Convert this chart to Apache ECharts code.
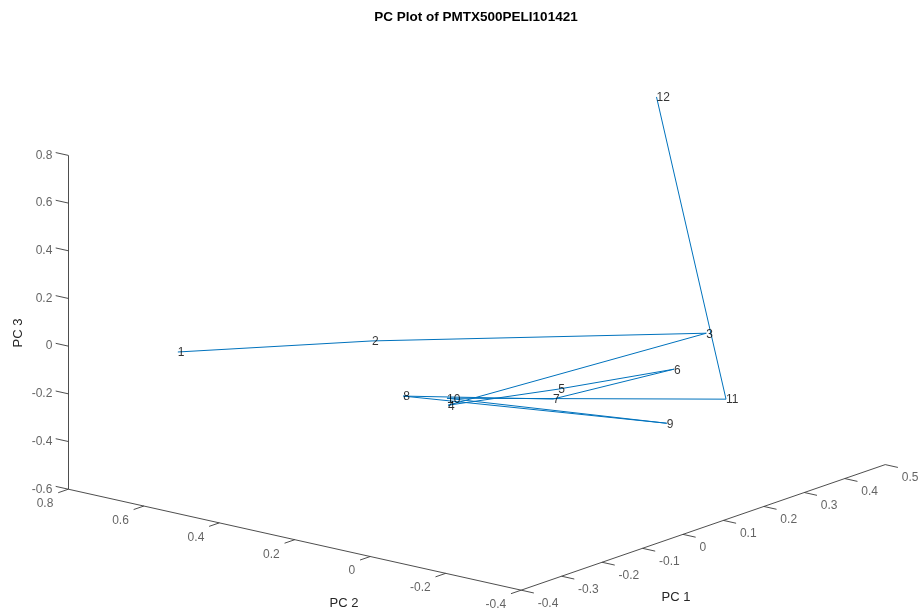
<!DOCTYPE html>
<html>
<head>
<meta charset="utf-8">
<title>PC Plot of PMTX500PELI101421</title>
<script src="https://cdn.jsdelivr.net/npm/echarts@6/dist/echarts.min.js"></script>
<style>
  html, body { margin: 0; padding: 0; background: #fff; }
  #chart { width: 918px; height: 612px; }
</style>
</head>
<body>
<div id="chart"></div>
<script>
// Principal component scores, one entry per sample, in plotting order
const pointLabels = ['1', '2', '3', '4', '5', '6', '7', '8', '9', '10', '11', '12'];
const pc1 = [-0.204, -0.069, 0.151, -0.161, 0.018, 0.211, 0.052, -0.365, 0.333, -0.117, 0.293, 0.470];
const pc2 = [0.720, 0.350, -0.300, 0.050, -0.050, -0.150, 0.000, -0.050, 0.000, 0.100, -0.200, 0.174];
const pc3 = [-0.111, -0.013, 0.120, -0.123, -0.125, -0.119, -0.204, 0.070, -0.470, -0.137, -0.275, 0.757];

// Axis limits and tick values
const pc1Limits = [-0.4, 0.5];
const pc2Limits = [-0.4, 0.8];
const pc3Limits = [-0.6, 0.8];
const pc1Ticks = [-0.4, -0.3, -0.2, -0.1, 0, 0.1, 0.2, 0.3, 0.4, 0.5];
const pc2Ticks = [-0.4, -0.2, 0, 0.2, 0.4, 0.6, 0.8];
const pc3Ticks = [-0.6, -0.4, -0.2, 0, 0.2, 0.4, 0.6, 0.8];

// View / plot box settings for the orthographic projection
const W = 918, H = 612;
const VIEW_AZ = -51.2, VIEW_EL = 16.1;      // degrees
const BOX = [1, 1, 0.598];                  // plot box aspect
const SCALE = 581;                          // px per box unit
const CENTER = [476.8, 310];                // px position of the box centre
const TICK_LEN = 0.028;                     // box units

const AXIS_COLOR = '#3a3a3a';
const LINE_COLOR = '#0072BD';
const FONT = '"Liberation Sans", Arial, Helvetica, sans-serif';

const az = VIEW_AZ * Math.PI / 180, el = VIEW_EL * Math.PI / 180;
function norm(v, lim) { return (v - lim[0]) / (lim[1] - lim[0]) - 0.5; }
// 3-D data coordinates -> 2-D view-plane coordinates (box units)
function project(a, b, c) {
  const X = norm(a, pc1Limits) * BOX[0];
  const Y = norm(b, pc2Limits) * BOX[1];
  const Z = norm(c, pc3Limits) * BOX[2];
  const h = X * Math.cos(az) + Y * Math.sin(az);
  const v = (-X * Math.sin(az) + Y * Math.cos(az)) * Math.sin(el) + Z * Math.cos(el);
  return [h, v];
}

const p1lo = pc1Limits[0], p1hi = pc1Limits[1];
const p2lo = pc2Limits[0], p2hi = pc2Limits[1];
const p3lo = pc3Limits[0], p3hi = pc3Limits[1];
const d1 = TICK_LEN * (p1hi - p1lo) / BOX[0];
const d2 = TICK_LEN * (p2hi - p2lo) / BOX[1];

// Axis lines
const axisSegments = [
  { coords: [project(p1lo, p2hi, p3lo), project(p1lo, p2hi, p3hi)] },   // PC 3
  { coords: [project(p1lo, p2lo, p3lo), project(p1lo, p2hi, p3lo)] },   // PC 2
  { coords: [project(p1lo, p2lo, p3lo), project(p1hi, p2lo, p3lo)] }    // PC 1
];
// Tick marks point outward from the box
pc3Ticks.forEach(t => axisSegments.push({ coords: [project(p1lo, p2hi, t), project(p1lo, p2hi + d2, t)] }));
pc2Ticks.forEach(t => axisSegments.push({ coords: [project(p1lo, t, p3lo), project(p1lo - d1, t, p3lo)] }));
pc1Ticks.forEach(t => axisSegments.push({ coords: [project(t, p2lo, p3lo), project(t, p2lo - d2, p3lo)] }));

const tickLabelStyle = { show: true, color: '#3c3c3c', fontSize: 12, fontFamily: FONT, formatter: p => p.data.name };

const pc3TickData = pc3Ticks.map(t => ({ name: String(t), value: project(p1lo, p2hi, t) }));
const pc2TickData = pc2Ticks.map(t => ({ name: String(t), value: project(p1lo, t, p3lo) }));
const pc1TickData = pc1Ticks.map(t => ({ name: String(t), value: project(t, p2lo, p3lo) }));

const pathData = pc1.map((v, i) => project(v, pc2[i], pc3[i]));
const pointData = pc1.map((v, i) => ({ name: pointLabels[i], value: project(v, pc2[i], pc3[i]) }));

const chart = echarts.init(document.getElementById('chart'), null, { renderer: 'canvas' });
chart.setOption({
  animation: false,
  backgroundColor: '#ffffff',
  grid: { left: 0, top: 0, right: 0, bottom: 0 },
  xAxis: { type: 'value', show: false, min: -CENTER[0] / SCALE, max: (W - CENTER[0]) / SCALE },
  yAxis: { type: 'value', show: false, min: -(H - CENTER[1]) / SCALE, max: CENTER[1] / SCALE },
  graphic: [
    { type: 'text', x: 476, y: 17, silent: true,
      style: { text: 'PC Plot of PMTX500PELI101421', fill: '#000', align: 'center', verticalAlign: 'middle',
               font: 'bold 13.5px ' + FONT } },
    { type: 'text', x: 676, y: 597, silent: true,
      style: { text: 'PC 1', fill: '#262626', align: 'center', verticalAlign: 'middle', font: '13px ' + FONT } },
    { type: 'text', x: 344, y: 603, silent: true,
      style: { text: 'PC 2', fill: '#262626', align: 'center', verticalAlign: 'middle', font: '13px ' + FONT } },
    { type: 'text', x: 18, y: 333, rotation: Math.PI / 2, silent: true,
      style: { text: 'PC 3', fill: '#262626', align: 'center', verticalAlign: 'middle', font: '13px ' + FONT } }
  ],
  series: [
    {
      type: 'lines', coordinateSystem: 'cartesian2d', silent: true, z: 1,
      lineStyle: { color: AXIS_COLOR, width: 0.9, opacity: 1 },
      data: axisSegments
    },
    {
      type: 'scatter', symbolSize: 0, silent: true, z: 2,
      label: Object.assign({ position: 'left', distance: 16 }, tickLabelStyle),
      data: pc3TickData
    },
    {
      type: 'scatter', symbolSize: 0, silent: true, z: 2,
      label: Object.assign({ position: 'left', distance: 15, offset: [0, 14.5] }, tickLabelStyle),
      data: pc2TickData
    },
    {
      type: 'scatter', symbolSize: 0, silent: true, z: 2,
      label: Object.assign({ position: 'right', distance: 16.5, offset: [0, 13.5] }, tickLabelStyle),
      data: pc1TickData
    },
    {
      type: 'line', symbol: 'none', silent: true, z: 3,
      lineStyle: { color: LINE_COLOR, width: 1 },
      data: pathData
    },
    {
      type: 'scatter', symbolSize: 0, silent: true, z: 4,
      label: { show: true, position: 'right', distance: 0, offset: [0, 1], color: '#000', fontSize: 12,
               fontFamily: FONT, formatter: p => p.data.name },
      data: pointData
    }
  ]
});
</script>
</body>
</html>
